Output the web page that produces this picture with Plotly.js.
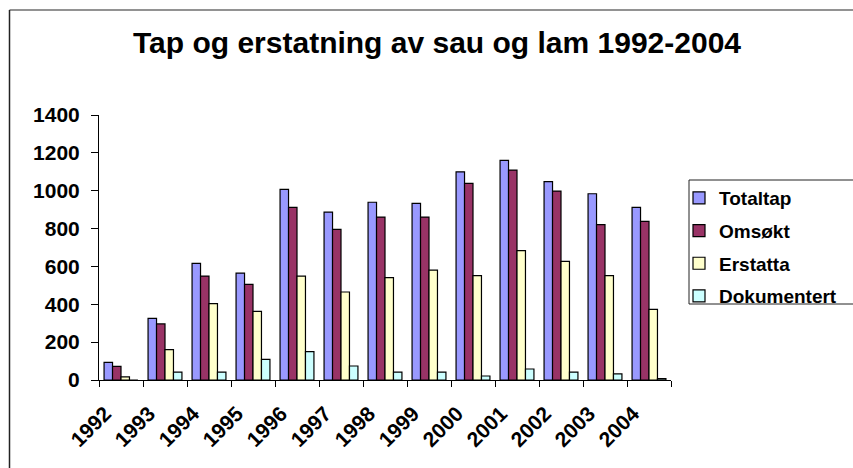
<!DOCTYPE html>
<html>
<head>
<meta charset="utf-8">
<script src="https://cdn.plot.ly/plotly-3.0.1.min.js"></script>
<style>
  html, body { margin: 0; padding: 0; background: #fff; }
  #chart { width: 853px; height: 468px; }
</style>
</head>
<body>
<div id="chart"></div>
<script>
const years = ["1992","1993","1994","1995","1996","1997","1998","1999","2000","2001","2002","2003","2004"];
const totaltap    = [93, 326, 616, 565, 1007, 887, 939, 933, 1100, 1160, 1048, 984, 912];
const omsokt      = [72, 296, 549, 505, 912, 796, 861, 861, 1039, 1109, 998, 821, 838];
const erstatta    = [16, 160, 403, 363, 549, 465, 541, 581, 551, 683, 627, 551, 373];
const dokumentert = [0, 42, 42, 109, 150, 74, 42, 42, 21, 58, 42, 32, 7];
const seriesNames = ["Totaltap", "Omsøkt", "Erstatta", "Dokumentert"];
const yTicks = [0, 200, 400, 600, 800, 1000, 1200, 1400];

const colors = ["#9999FF", "#993366", "#FFFFCC", "#CCFFFF"];
const values = [totaltap, omsokt, erstatta, dokumentert];
const FONT = "Liberation Sans, Arial, sans-serif";

const traces = values.map((v, i) => ({
  type: "bar",
  name: seriesNames[i],
  x: years,
  y: v,
  legendgroup: "g" + i,
  marker: { color: colors[i], line: { color: "#000", width: 1.2 } },
  hoverinfo: "x+y+name"
}));

// plot area: x 99..671, y 115..380
const L = 99, R = 671, T = 115, B = 380;
const W = 853, H = 468;
const pw = R - L, ph = B - T;
const px = v => (v - L) / pw;
const py = v => (B - v) / ph;

const layout = {
  width: W, height: H,
  margin: { l: L, r: W - R, t: T, b: H - B, autoexpand: false },
  paper_bgcolor: "#fff",
  plot_bgcolor: "#fff",
  barmode: "group",
  bargap: 0.23,
  bargroupgap: 0,
  showlegend: true,
  title: {
    text: "Tap og erstatning av sau og lam 1992-2004",
    font: { family: FONT, size: 30, color: "#000", weight: "bold" },
    xref: "container", x: 437 / W, xanchor: "center",
    yref: "container", y: 1 - 32 / H, yanchor: "top"
  },
  xaxis: {
    type: "category",
    showline: true, linecolor: "#000", linewidth: 1,
    ticks: "outside", tickson: "boundaries", ticklen: 6, tickcolor: "#000", tickwidth: 1,
    tickangle: -45,
    ticklabelshift: -16,
    ticklabelstandoff: 12,
    tickfont: { family: FONT, size: 21, color: "#000", weight: "bold" },
    showgrid: false, zeroline: false,
    fixedrange: true
  },
  yaxis: {
    range: [0, 1400],
    tickvals: yTicks,
    ticktext: yTicks.map(String),
    showline: true, linecolor: "#000", linewidth: 1,
    ticks: "outside", ticklen: 7, tickcolor: "#000", tickwidth: 1,
    ticklabelstandoff: 7,
    tickfont: { family: FONT, size: 21, color: "#000", weight: "bold" },
    showgrid: false, zeroline: false,
    fixedrange: true
  },
  legend: {
    x: px(679), xanchor: "left",
    y: py(179), yanchor: "top",
    bgcolor: "rgba(0,0,0,0)",
    borderwidth: 0,
    traceorder: "grouped",
    tracegroupgap: 5,
    font: { family: FONT, size: 19, color: "#000", weight: "bold" }
  },
  shapes: [
    // chart border (top & left)
    { type: "line", xref: "paper", yref: "paper",
      x0: px(9.5), x1: px(860), y0: py(10), y1: py(10),
      line: { color: "#6e6e6e", width: 1.5 } },
    { type: "line", xref: "paper", yref: "paper",
      x0: px(9.5), x1: px(9.5), y0: py(10), y1: py(475),
      line: { color: "#222", width: 1.5 } },
    // legend box
    { type: "rect", xref: "paper", yref: "paper",
      x0: px(689), x1: px(870), y0: py(304), y1: py(180),
      line: { color: "#222", width: 1 } }
  ]
};

Plotly.newPlot("chart", traces, layout, { displayModeBar: false, staticPlot: true });
</script>
</body>
</html>
